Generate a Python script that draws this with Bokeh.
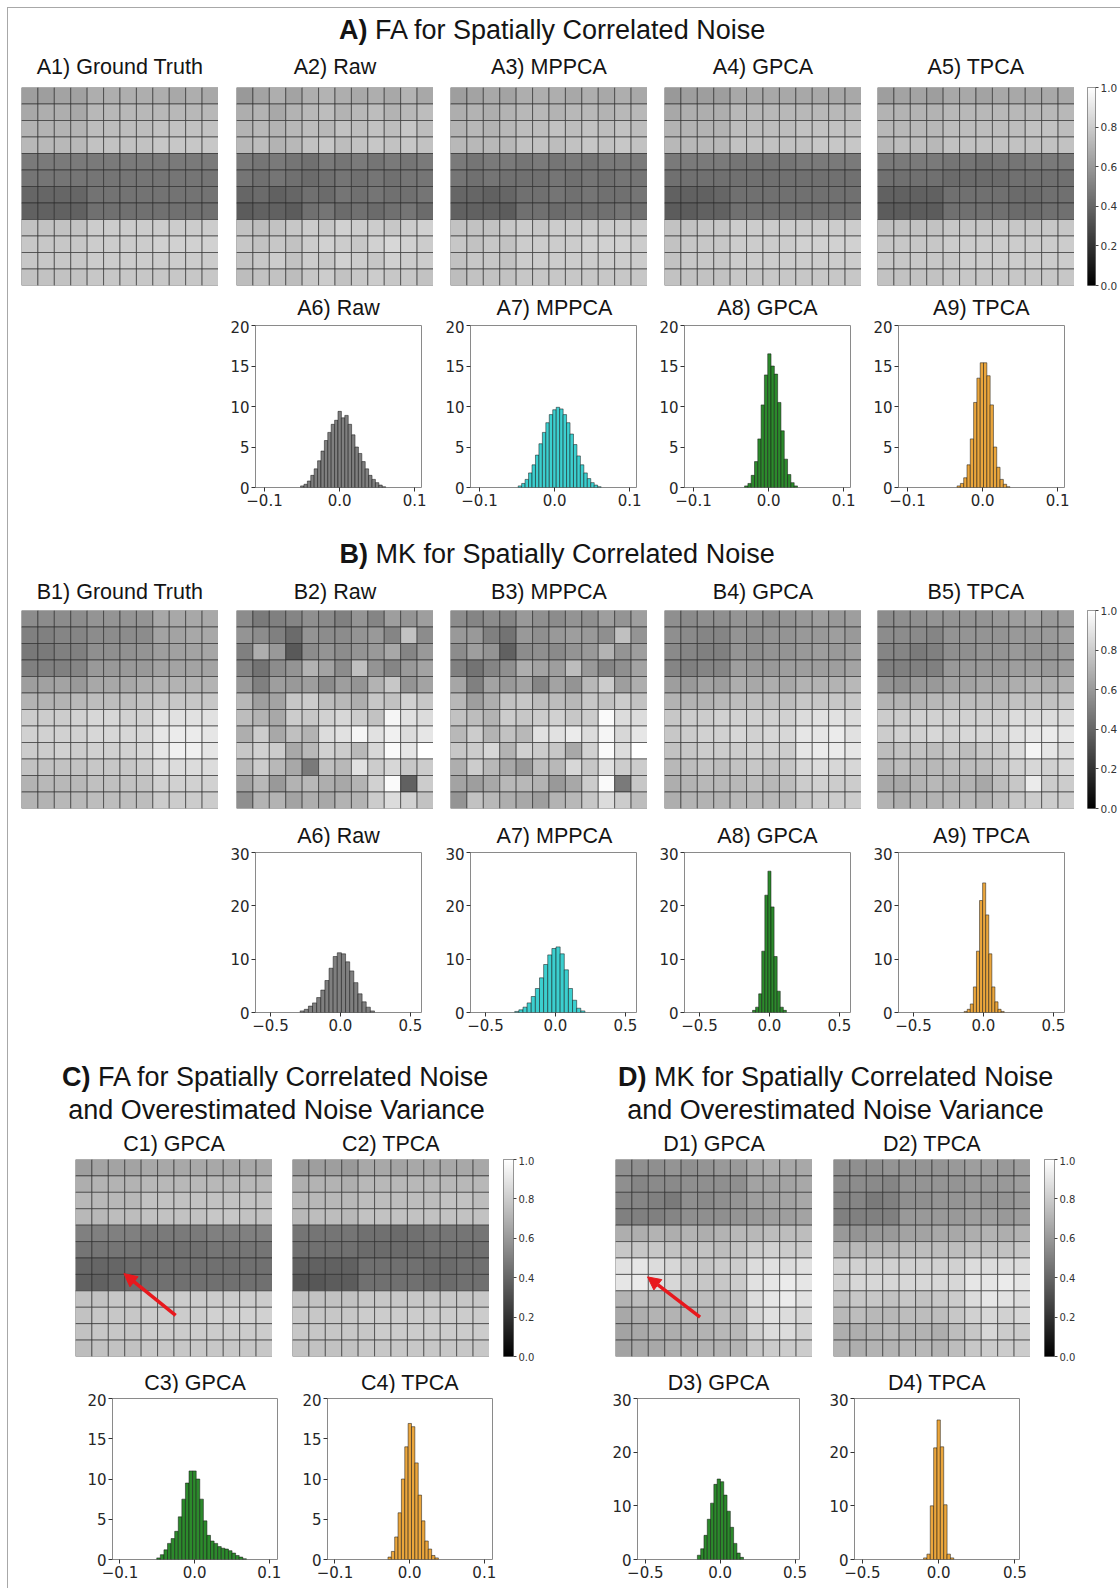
import numpy as np
from bokeh.plotting import figure
from bokeh.layouts import row, column
from bokeh.models import (Spacer, LinearColorMapper, FixedTicker, CustomJSTickFormatter,
                          LinearAxis, Arrow, NormalHead, ColumnDataSource)
from bokeh.core.properties import value
from bokeh.embed import file_html
from bokeh.resources import INLINE

# ---------------------------------------------------------------- data
# heat maps: 12x12 cell values in percent (0..100 -> 0..1 grey scale)
A1_gt = [
    [62, 62, 64, 63, 68, 68, 68, 68, 68, 66, 68, 66],
    [66, 68, 68, 66, 72, 72, 72, 72, 72, 72, 72, 72],
    [70, 70, 70, 70, 74, 74, 74, 74, 76, 76, 76, 76],
    [72, 72, 72, 72, 76, 76, 76, 76, 78, 78, 78, 78],
    [48, 48, 48, 48, 48, 48, 48, 48, 48, 48, 48, 48],
    [46, 46, 46, 46, 46, 46, 46, 46, 46, 46, 46, 46],
    [40, 40, 40, 40, 45, 45, 45, 45, 45, 45, 45, 45],
    [38, 38, 38, 38, 44, 44, 44, 44, 44, 44, 44, 44],
    [76, 76, 76, 76, 80, 80, 80, 80, 80, 80, 80, 80],
    [78, 78, 78, 78, 80, 80, 80, 80, 82, 82, 82, 82],
    [78, 78, 78, 78, 80, 80, 80, 80, 80, 80, 80, 80],
    [76, 76, 76, 76, 78, 78, 78, 78, 78, 78, 78, 78]]
A2_raw = [
    [60, 64, 68, 64, 68, 70, 68, 66, 68, 66, 70, 66],
    [68, 70, 66, 70, 72, 74, 70, 72, 74, 70, 72, 74],
    [70, 72, 70, 72, 74, 72, 76, 74, 76, 74, 78, 74],
    [72, 74, 70, 72, 76, 78, 74, 76, 78, 76, 78, 76],
    [48, 46, 48, 46, 44, 48, 46, 48, 46, 48, 46, 48],
    [46, 44, 46, 44, 42, 44, 46, 44, 46, 44, 46, 46],
    [40, 42, 38, 40, 44, 42, 46, 44, 46, 44, 44, 46],
    [36, 38, 38, 36, 44, 46, 42, 44, 42, 44, 46, 42],
    [76, 74, 76, 78, 80, 78, 82, 80, 80, 78, 80, 82],
    [78, 76, 78, 76, 80, 82, 80, 78, 82, 84, 82, 80],
    [76, 78, 80, 76, 80, 78, 82, 80, 78, 82, 80, 80],
    [74, 76, 76, 74, 78, 80, 76, 78, 80, 78, 78, 76]]
A3_mppca = [
    [62, 64, 66, 64, 68, 68, 68, 66, 68, 66, 68, 66],
    [68, 70, 68, 70, 72, 72, 70, 72, 72, 70, 72, 72],
    [70, 72, 70, 72, 74, 74, 76, 74, 76, 74, 76, 74],
    [72, 72, 72, 72, 76, 76, 74, 76, 78, 76, 78, 76],
    [48, 46, 48, 48, 46, 48, 46, 48, 46, 48, 48, 48],
    [46, 44, 46, 44, 44, 44, 46, 44, 46, 44, 46, 46],
    [40, 40, 38, 40, 44, 44, 46, 44, 46, 44, 44, 46],
    [38, 38, 38, 36, 44, 44, 42, 44, 44, 44, 46, 44],
    [76, 76, 76, 78, 80, 78, 80, 80, 80, 80, 80, 80],
    [78, 76, 78, 76, 80, 80, 80, 80, 82, 82, 82, 80],
    [76, 78, 78, 76, 80, 80, 80, 80, 80, 80, 80, 80],
    [74, 76, 76, 76, 78, 78, 78, 78, 78, 78, 78, 78]]
A4_gpca = [
    [60, 62, 62, 62, 66, 66, 66, 66, 66, 66, 66, 66],
    [66, 68, 68, 68, 72, 72, 72, 72, 72, 72, 72, 72],
    [70, 70, 70, 70, 74, 74, 74, 74, 76, 76, 76, 76],
    [72, 72, 72, 72, 76, 76, 76, 76, 76, 78, 78, 78],
    [48, 48, 48, 48, 46, 46, 46, 46, 48, 48, 48, 48],
    [44, 44, 44, 44, 44, 44, 44, 44, 44, 44, 44, 44],
    [38, 38, 38, 40, 44, 44, 44, 44, 44, 44, 44, 44],
    [36, 36, 38, 38, 44, 44, 44, 44, 44, 44, 44, 44],
    [76, 76, 78, 78, 80, 80, 80, 80, 80, 80, 80, 80],
    [76, 78, 78, 78, 80, 80, 80, 80, 82, 82, 82, 82],
    [76, 78, 78, 78, 80, 80, 80, 80, 80, 80, 80, 80],
    [76, 76, 76, 76, 78, 78, 78, 78, 78, 78, 78, 78]]
A5_tpca = [
    [62, 64, 64, 62, 66, 66, 64, 66, 66, 66, 66, 66],
    [70, 70, 70, 70, 72, 72, 72, 72, 72, 72, 72, 72],
    [72, 72, 72, 72, 74, 74, 74, 74, 74, 76, 76, 74],
    [72, 74, 74, 72, 76, 76, 76, 76, 76, 76, 76, 76],
    [48, 48, 48, 48, 46, 46, 44, 46, 46, 48, 48, 48],
    [44, 44, 44, 44, 42, 42, 42, 42, 44, 44, 44, 44],
    [38, 38, 38, 38, 44, 44, 44, 44, 42, 42, 44, 44],
    [36, 36, 36, 36, 44, 44, 44, 44, 42, 42, 44, 44],
    [76, 76, 76, 76, 78, 78, 78, 78, 78, 78, 78, 78],
    [78, 78, 78, 78, 80, 80, 80, 80, 80, 80, 80, 80],
    [78, 78, 78, 78, 78, 80, 80, 80, 80, 80, 80, 80],
    [76, 76, 76, 76, 78, 78, 78, 78, 78, 78, 78, 78]]
B1_gt = [
    [55, 55, 55, 55, 58, 58, 58, 58, 66, 66, 66, 66],
    [50, 50, 52, 52, 55, 55, 55, 55, 64, 64, 66, 66],
    [47, 48, 50, 50, 56, 56, 57, 58, 62, 63, 64, 65],
    [50, 50, 50, 52, 60, 60, 60, 60, 64, 64, 64, 64],
    [62, 63, 64, 60, 66, 66, 66, 68, 70, 70, 70, 70],
    [70, 70, 70, 72, 74, 74, 74, 76, 78, 78, 78, 78],
    [80, 80, 80, 82, 84, 84, 82, 82, 88, 88, 88, 88],
    [82, 82, 82, 82, 84, 84, 84, 84, 90, 92, 92, 90],
    [80, 80, 82, 80, 82, 82, 82, 84, 90, 94, 94, 90],
    [76, 76, 76, 76, 78, 78, 78, 80, 86, 86, 86, 86],
    [70, 72, 72, 72, 75, 75, 76, 76, 82, 82, 82, 82],
    [70, 70, 72, 72, 74, 74, 74, 74, 80, 80, 80, 80]]
B2_raw = [
    [55, 48, 50, 52, 56, 54, 50, 58, 52, 62, 58, 62],
    [58, 55, 50, 42, 58, 55, 55, 58, 60, 52, 76, 55],
    [50, 68, 60, 35, 55, 58, 55, 58, 60, 66, 52, 60],
    [52, 45, 55, 58, 70, 64, 55, 75, 58, 52, 60, 64],
    [60, 50, 62, 60, 62, 55, 62, 58, 70, 78, 58, 64],
    [72, 62, 64, 78, 80, 74, 72, 68, 78, 76, 82, 78],
    [74, 70, 66, 80, 78, 82, 84, 80, 76, 96, 88, 86],
    [68, 80, 66, 75, 70, 86, 88, 96, 88, 94, 86, 90],
    [78, 82, 80, 66, 72, 82, 80, 72, 84, 98, 90, 100],
    [72, 80, 72, 66, 48, 75, 72, 88, 80, 84, 78, 80],
    [64, 72, 60, 70, 72, 68, 66, 70, 82, 98, 38, 80],
    [56, 70, 70, 64, 68, 66, 70, 70, 80, 86, 82, 76]]
B3_mppca = [
    [55, 52, 55, 52, 60, 56, 55, 58, 56, 62, 58, 62],
    [60, 60, 50, 45, 60, 56, 60, 62, 60, 56, 75, 58],
    [55, 62, 58, 38, 55, 56, 54, 58, 60, 70, 58, 62],
    [50, 45, 52, 56, 68, 64, 62, 74, 60, 52, 56, 64],
    [65, 50, 64, 60, 64, 52, 64, 58, 72, 80, 62, 68],
    [72, 62, 68, 76, 78, 74, 74, 72, 78, 76, 80, 76],
    [76, 74, 70, 80, 78, 80, 82, 78, 80, 98, 86, 86],
    [72, 80, 70, 76, 72, 88, 88, 92, 86, 96, 84, 90],
    [78, 80, 84, 70, 82, 80, 78, 66, 82, 98, 86, 100],
    [68, 80, 72, 66, 60, 74, 72, 84, 78, 88, 80, 80],
    [64, 62, 66, 72, 72, 70, 60, 66, 80, 98, 48, 78],
    [58, 76, 72, 68, 66, 62, 70, 72, 78, 86, 80, 74]]
B4_gpca = [
    [56, 54, 56, 56, 58, 58, 56, 58, 60, 62, 60, 62],
    [56, 54, 52, 52, 58, 56, 58, 58, 60, 60, 62, 60],
    [54, 52, 50, 50, 58, 56, 58, 58, 60, 62, 60, 62],
    [52, 50, 52, 52, 62, 60, 60, 62, 62, 62, 62, 64],
    [62, 60, 64, 62, 68, 66, 68, 66, 70, 70, 70, 72],
    [70, 70, 70, 72, 74, 74, 74, 74, 78, 78, 78, 78],
    [78, 80, 80, 82, 82, 82, 82, 82, 86, 88, 88, 86],
    [78, 80, 82, 82, 84, 82, 84, 84, 90, 90, 92, 88],
    [76, 78, 80, 80, 80, 82, 82, 80, 90, 92, 92, 90],
    [72, 74, 76, 74, 76, 78, 76, 78, 84, 86, 84, 84],
    [68, 70, 72, 72, 72, 74, 72, 74, 80, 82, 80, 80],
    [68, 70, 70, 70, 72, 72, 72, 72, 78, 80, 80, 80]]
B5_tpca = [
    [55, 56, 56, 58, 58, 58, 58, 60, 62, 64, 60, 62],
    [55, 55, 54, 52, 58, 58, 58, 58, 60, 60, 60, 62],
    [52, 52, 48, 50, 56, 56, 58, 58, 60, 58, 58, 60],
    [50, 50, 50, 50, 60, 60, 60, 60, 62, 62, 60, 62],
    [58, 56, 60, 60, 64, 64, 66, 66, 68, 70, 68, 70],
    [70, 70, 70, 72, 74, 74, 74, 74, 76, 76, 76, 78],
    [80, 80, 82, 82, 82, 82, 82, 82, 86, 86, 86, 86],
    [80, 82, 82, 84, 82, 84, 84, 84, 88, 90, 92, 90],
    [74, 76, 76, 74, 78, 74, 78, 80, 86, 96, 90, 86],
    [72, 74, 72, 72, 74, 74, 74, 78, 82, 84, 82, 84],
    [66, 66, 70, 72, 70, 70, 66, 74, 78, 92, 80, 80],
    [70, 68, 70, 70, 72, 72, 70, 74, 78, 80, 80, 80]]
C1_gpca = [
    [62, 64, 64, 64, 66, 66, 66, 66, 66, 66, 66, 66],
    [68, 70, 70, 70, 72, 72, 72, 72, 72, 72, 72, 72],
    [72, 72, 72, 72, 76, 76, 76, 76, 76, 76, 76, 76],
    [72, 72, 74, 74, 76, 76, 76, 76, 78, 78, 76, 76],
    [50, 50, 50, 50, 48, 48, 48, 48, 50, 50, 50, 50],
    [46, 46, 46, 46, 44, 44, 44, 44, 46, 46, 46, 46],
    [40, 40, 40, 42, 44, 44, 44, 44, 44, 44, 44, 44],
    [38, 38, 40, 42, 44, 44, 44, 44, 44, 44, 44, 44],
    [76, 76, 78, 78, 80, 80, 80, 80, 80, 80, 80, 80],
    [76, 78, 78, 78, 80, 80, 80, 80, 82, 82, 82, 82],
    [76, 78, 78, 78, 80, 80, 80, 80, 80, 80, 80, 80],
    [74, 76, 76, 76, 78, 78, 78, 78, 78, 78, 78, 78]]
C2_tpca = [
    [60, 62, 62, 60, 66, 66, 64, 66, 66, 66, 66, 66],
    [68, 70, 70, 68, 72, 72, 72, 72, 72, 72, 72, 72],
    [72, 72, 72, 72, 74, 74, 74, 74, 74, 76, 76, 74],
    [72, 74, 74, 72, 76, 76, 76, 76, 76, 76, 76, 76],
    [46, 46, 46, 46, 44, 44, 42, 44, 46, 46, 46, 46],
    [44, 44, 44, 44, 42, 42, 42, 42, 44, 44, 44, 44],
    [38, 38, 38, 38, 44, 44, 44, 44, 42, 42, 44, 44],
    [34, 34, 36, 36, 44, 44, 44, 44, 42, 42, 44, 44],
    [76, 76, 76, 76, 78, 78, 78, 78, 78, 78, 78, 78],
    [78, 78, 78, 78, 80, 80, 80, 80, 80, 80, 80, 80],
    [78, 78, 78, 78, 78, 80, 80, 80, 80, 80, 80, 80],
    [76, 76, 76, 76, 78, 78, 78, 78, 78, 78, 78, 78]]
D1_gpca = [
    [56, 56, 56, 58, 56, 58, 60, 60, 66, 68, 66, 66],
    [56, 52, 54, 54, 56, 56, 56, 56, 64, 64, 64, 66],
    [52, 52, 50, 48, 56, 54, 56, 58, 62, 64, 64, 66],
    [50, 50, 50, 52, 56, 56, 56, 58, 60, 62, 62, 64],
    [68, 68, 70, 68, 70, 68, 70, 72, 72, 74, 74, 74],
    [78, 78, 78, 76, 76, 76, 74, 76, 80, 82, 80, 80],
    [88, 90, 86, 84, 80, 78, 80, 80, 86, 88, 86, 88],
    [90, 92, 88, 84, 80, 78, 78, 80, 88, 90, 92, 90],
    [70, 74, 72, 72, 74, 74, 74, 76, 86, 90, 92, 88],
    [66, 68, 70, 70, 72, 72, 74, 74, 84, 88, 86, 84],
    [64, 66, 68, 68, 70, 70, 72, 72, 82, 86, 86, 82],
    [64, 66, 66, 68, 70, 70, 70, 70, 78, 80, 80, 80]]
D2_tpca = [
    [56, 56, 56, 58, 58, 58, 58, 60, 62, 62, 60, 62],
    [55, 55, 54, 52, 58, 58, 58, 58, 60, 60, 60, 62],
    [52, 52, 48, 50, 56, 56, 58, 58, 60, 58, 58, 60],
    [50, 50, 50, 50, 60, 60, 60, 60, 62, 62, 60, 62],
    [60, 58, 60, 60, 64, 64, 66, 66, 68, 70, 68, 70],
    [72, 72, 72, 72, 74, 74, 74, 74, 76, 76, 76, 78],
    [82, 82, 82, 82, 82, 82, 82, 82, 86, 86, 86, 86],
    [82, 84, 84, 84, 84, 84, 84, 84, 90, 90, 92, 90],
    [76, 78, 78, 76, 78, 76, 78, 80, 86, 90, 88, 86],
    [72, 74, 72, 72, 74, 74, 74, 78, 82, 84, 82, 84],
    [68, 68, 70, 72, 70, 70, 68, 74, 78, 84, 80, 80],
    [70, 68, 70, 70, 72, 72, 70, 74, 78, 80, 80, 80]]

# histograms: first bin edge, bin width, bar heights (density)
A6_start, A6_bw = -0.052, 0.00453
A6_dens = [0.2, 0.4, 0.8, 1.5, 2.3, 3.3, 4.5, 5.8, 6.8, 7.8, 8.3, 9.4, 8.6, 8.9, 7.8, 6.5,
           5.0, 4.2, 3.2, 2.3, 1.5, 1.0, 0.6, 0.3, 0.1]
A7_start, A7_bw = -0.0485, 0.0046
A7_dens = [0.2, 0.5, 1.0, 1.8, 2.8, 4.0, 5.4, 6.8, 8.0, 9.0, 9.6, 9.9, 9.7, 9.0, 8.0, 6.6,
           5.3, 3.9, 2.8, 1.8, 1.1, 0.6, 0.3, 0.1]
A8_start, A8_bw = -0.032, 0.0044
A8_dens = [0.2, 0.5, 1.5, 3.2, 6.0, 10.2, 13.9, 16.5, 15.0, 14.0, 10.5, 7.0, 3.5, 1.6, 0.6, 0.2]
A9_start, A9_bw = -0.034, 0.0044
A9_dens = [0.2, 0.5, 1.2, 2.8, 6.0, 10.5, 13.5, 15.4, 15.4, 13.8, 10.2, 5.0, 2.5, 1.0, 0.4, 0.1]

BA6_start, BA6_bw = -0.288, 0.0295
BA6_dens = [0.3, 0.6, 1.2, 1.8, 2.8, 4.2, 6.0, 8.3, 10.5, 11.2, 11.0, 9.5, 7.8, 5.6, 3.5, 2.0, 1.0, 0.3]
BA7_start, BA7_bw = -0.291, 0.0295
BA7_dens = [0.2, 0.5, 1.0, 1.8, 3.0, 4.5, 6.5, 9.0, 10.8, 12.0, 12.3, 11.0, 8.0, 4.5, 2.3, 0.8, 0.3]
BA8_start, BA8_bw = -0.121, 0.022
BA8_dens = [0.4, 1.0, 3.5, 11.5, 22.0, 26.5, 19.8, 10.5, 4.0, 1.0, 0.4]
BA9_start, BA9_bw = -0.138, 0.022
BA9_dens = [0.2, 0.6, 1.6, 4.8, 11.5, 21.0, 24.3, 18.3, 11.0, 4.8, 2.0, 0.6, 0.2]

C3_start, C3_bw = -0.0507, 0.0048
C3_dens = [0.2, 0.6, 1.2, 2.0, 2.6, 3.5, 5.3, 7.5, 9.5, 11.0, 11.0, 10.0, 7.5, 4.8, 3.0, 2.3,
           2.0, 1.6, 1.4, 1.3, 1.1, 0.8, 0.5, 0.3, 0.1]
C4_start, C4_bw = -0.029, 0.0045
C4_dens = [0.3, 1.0, 2.8, 5.8, 10.0, 14.0, 16.9, 16.5, 12.0, 8.0, 4.8, 2.3, 1.3, 0.5, 0.2]
D3_start, D3_bw = -0.152, 0.022
D3_dens = [0.8, 2.0, 4.5, 7.5, 10.5, 14.0, 15.0, 14.5, 12.0, 9.0, 6.0, 3.0, 1.2, 0.4]
D4_start, D4_bw = -0.099, 0.022
D4_dens = [0.3, 1.0, 10.0, 20.8, 26.0, 21.0, 10.2, 1.0, 0.3]

# ticks / ranges
FA_XTICKS = [-0.1, 0.0, 0.1]
MK_XTICKS = [-0.5, 0.0, 0.5]
FA_YTICKS = [0, 5, 10, 15, 20]
MK_YTICKS = [0, 10, 20, 30]
CB_TICKS = [0.0, 0.2, 0.4, 0.6, 0.8, 1.0]

# arrows (cell units: column, row) in C1 and D1
C1_ARROW = (6.1, 9.5, 2.95, 6.95)
D1_ARROW = (5.15, 9.6, 1.95, 7.15)

# ---------------------------------------------------------------- styles
TFONT = "Liberation Sans"
KFONT = "DejaVu Sans"
GRAYS = ["#%02x%02x%02x" % (i, i, i) for i in range(256)]
CMAP = LinearColorMapper(palette=GRAYS, low=0.0, high=1.0)
C_GRAY, C_CYAN, C_GREEN, C_ORANGE = "#7f7f7f", "#3ccfcf", "#2c8a2c", "#eba63c"
RED = "#e8181d"
FRAME = "#a8a8a8"


def base_fig(**kw):
    p = figure(output_backend="svg", toolbar_location=None, **kw)
    p.border_fill_color = None
    return p


def strip(top, h, items):
    p = base_fig(width=1120, height=h, x_range=(0, 1120), y_range=(top + h, top),
                 x_axis_location=None, y_axis_location=None, min_border=0)
    p.grid.visible = False
    p.outline_line_color = None
    p.background_fill_color = None
    for (x, y, txt, size, bold, align) in items:
        p.text(x=[x], y=[y], text=[txt], text_font=value(TFONT), text_font_size=size,
               text_font_style="bold" if bold else "normal", text_align=align,
               text_baseline="middle", text_color="#141414")
    return p


def heatmap(vals, fw=197, fh=198, top=6, bottom=6, arrow=None):
    v = np.asarray(vals, dtype=float) / 100.0
    nr, nc = v.shape
    cc, rr = np.meshgrid(np.arange(nc), np.arange(nr))
    src = ColumnDataSource(dict(l=cc.ravel(), r=cc.ravel() + 1, t=rr.ravel(), b=rr.ravel() + 1,
                                v=v.ravel()))
    p = base_fig(width=fw, height=fh + top + bottom, x_range=(0, nc), y_range=(nr, 0),
                 x_axis_location=None, y_axis_location=None, min_border_left=0,
                 min_border_right=0, min_border_top=top, min_border_bottom=bottom)
    p.grid.visible = False
    p.outline_line_color = None
    p.quad(left="l", right="r", top="t", bottom="b", source=src,
           fill_color={"field": "v", "transform": CMAP}, line_color="#262626", line_width=0.6)
    if arrow is not None:
        xs, ys, xe, ye = arrow
        p.add_layout(Arrow(end=NormalHead(size=13, fill_color=RED, line_color=RED),
                           x_start=xs, y_start=ys, x_end=xe, y_end=ye,
                           line_color=RED, line_width=3.5))
    return p


def colorbar(lb, fw, rb, fh, top, bottom, size="10.5px"):
    p = base_fig(width=lb + fw + rb, height=fh + top + bottom, x_range=(0, 1), y_range=(0, 1),
                 x_axis_location=None, y_axis_location=None, min_border_left=lb,
                 min_border_right=rb, min_border_top=top, min_border_bottom=bottom)
    p.grid.visible = False
    grad = np.linspace(0, 1, 256).reshape(256, 1)
    p.image(image=[grad], x=0, y=0, dw=1, dh=1, color_mapper=CMAP)
    ax = LinearAxis(ticker=FixedTicker(ticks=CB_TICKS),
                    formatter=CustomJSTickFormatter(code="return tick.toFixed(1)"))
    ax.axis_line_color = None
    ax.major_tick_out = 3
    ax.major_tick_in = 0
    ax.major_tick_line_color = "#444444"
    ax.minor_tick_line_color = None
    ax.major_label_text_font = KFONT
    ax.major_label_text_font_size = size
    ax.major_label_text_color = "#333333"
    ax.major_label_standoff = 2
    p.add_layout(ax, "right")
    p.outline_line_color = "#777777"
    return p


def histfig(start, bw, dens, color, xr, yr, xt, yt, lb, fw, rb, fh, top, bottom):
    d = np.asarray(dens, dtype=float)
    left = start + bw * np.arange(len(d))
    p = base_fig(width=lb + fw + rb, height=top + fh + bottom, x_range=xr, y_range=yr,
                 min_border_left=lb, min_border_right=rb, min_border_top=top,
                 min_border_bottom=bottom)
    p.grid.visible = False
    p.quad(left=left, right=left + bw, bottom=0, top=d, fill_color=color,
           line_color="#111111", line_width=0.6, line_alpha=0.85)
    p.xaxis.ticker = FixedTicker(ticks=xt)
    p.xaxis.formatter = CustomJSTickFormatter(
        code="return tick.toFixed(1).replace('-', '\u2212')")
    p.yaxis.ticker = FixedTicker(ticks=yt)
    for ax in (p.xaxis, p.yaxis):
        ax.axis_line_color = None
        ax.major_tick_out = 4
        ax.major_tick_in = 0
        ax.major_tick_line_color = "#333333"
        ax.minor_tick_line_color = None
        ax.major_label_text_font = KFONT
        ax.major_label_text_font_size = "15px"
        ax.major_label_text_color = "#262626"
        ax.major_label_standoff = 2
    p.outline_line_color = "#8a8a8a"
    return p


def sp(w, h):
    return Spacer(width=w, height=h)


TS, SS = "27px", "21.5px"

# ---------------------------------------------------------------- section A
s1 = strip(0, 81, [
    (338.5, 29.5, "A)", TS, True, "left"),
    (374.5, 29.5, "FA for Spatially Correlated Noise", TS, False, "left"),
    (119.5, 66, "A1) Ground Truth", SS, False, "center"),
    (334.5, 66, "A2) Raw", SS, False, "center"),
    (548.5, 66, "A3) MPPCA", SS, False, "center"),
    (762.5, 66, "A4) GPCA", SS, False, "center"),
    (975.5, 66, "A5) TPCA", SS, False, "center")])
hA = row(sp(21, 210), heatmap(A1_gt), sp(18, 210), heatmap(A2_raw), sp(17, 210),
         heatmap(A3_mppca), sp(17, 210), heatmap(A4_gpca), sp(16, 210), heatmap(A5_tpca),
         colorbar(13, 9, 24, 198, 6, 6))
s2 = strip(291, 29, [
    (338.0, 307, "A6) Raw", SS, False, "center"),
    (554.0, 307, "A7) MPPCA", SS, False, "center"),
    (767.0, 307, "A8) GPCA", SS, False, "center"),
    (981.0, 307, "A9) TPCA", SS, False, "center")])
FA_XR, FA_YR = (-0.112, 0.109), (0, 20)
ha = dict(xr=FA_XR, yr=FA_YR, xt=FA_XTICKS, yt=FA_YTICKS, lb=40, fw=166, rb=8, fh=162, top=5,
          bottom=33)
gA = row(sp(215, 200), histfig(A6_start, A6_bw, A6_dens, C_GRAY, **ha), sp(1, 200),
         histfig(A7_start, A7_bw, A7_dens, C_CYAN, **ha),
         histfig(A8_start, A8_bw, A8_dens, C_GREEN, **ha),
         histfig(A9_start, A9_bw, A9_dens, C_ORANGE, **ha))

# ---------------------------------------------------------------- section B
s3 = strip(520, 84, [
    (339.0, 553, "B)", TS, True, "left"),
    (375.0, 553, "MK for Spatially Correlated Noise", TS, False, "left"),
    (119.5, 591, "B1) Ground Truth", SS, False, "center"),
    (334.5, 591, "B2) Raw", SS, False, "center"),
    (548.5, 591, "B3) MPPCA", SS, False, "center"),
    (762.5, 591, "B4) GPCA", SS, False, "center"),
    (975.5, 591, "B5) TPCA", SS, False, "center")])
hB = row(sp(21, 210), heatmap(B1_gt), sp(18, 210), heatmap(B2_raw), sp(17, 210),
         heatmap(B3_mppca), sp(17, 210), heatmap(B4_gpca), sp(16, 210), heatmap(B5_tpca),
         colorbar(13, 9, 24, 198, 6, 6))
s4 = strip(814, 33, [
    (338.0, 835, "A6) Raw", SS, False, "center"),
    (554.0, 835, "A7) MPPCA", SS, False, "center"),
    (767.0, 835, "A8) GPCA", SS, False, "center"),
    (981.0, 835, "A9) TPCA", SS, False, "center")])
MK_XR, MK_YR = (-0.607, 0.579), (0, 30)
hb = dict(xr=MK_XR, yr=MK_YR, xt=MK_XTICKS, yt=MK_YTICKS, lb=40, fw=166, rb=8, fh=160, top=5,
          bottom=28)
gB = row(sp(215, 193), histfig(BA6_start, BA6_bw, BA6_dens, C_GRAY, **hb), sp(1, 193),
         histfig(BA7_start, BA7_bw, BA7_dens, C_CYAN, **hb),
         histfig(BA8_start, BA8_bw, BA8_dens, C_GREEN, **hb),
         histfig(BA9_start, BA9_bw, BA9_dens, C_ORANGE, **hb))

# ---------------------------------------------------------------- sections C and D
s5 = strip(1040, 116, [
    (61.5, 1076.5, "C)", TS, True, "left"),
    (97.5, 1076.5, "FA for Spatially Correlated Noise", TS, False, "left"),
    (276.0, 1109, "and Overestimated Noise Variance", TS, False, "center"),
    (617.5, 1076.5, "D)", TS, True, "left"),
    (653.5, 1076.5, "MK for Spatially Correlated Noise", TS, False, "left"),
    (835.0, 1109, "and Overestimated Noise Variance", TS, False, "center"),
    (173.5, 1143, "C1) GPCA", SS, False, "center"),
    (390.5, 1143, "C2) TPCA", SS, False, "center"),
    (713.5, 1143, "D1) GPCA", SS, False, "center"),
    (931.5, 1143, "D2) TPCA", SS, False, "center")])
hc = dict(fh=197, top=3, bottom=5)
hCD = row(sp(75, 205), heatmap(C1_gpca, arrow=C1_ARROW, **hc), sp(20, 205),
          heatmap(C2_tpca, **hc), colorbar(14, 10, 26, 197, 3, 5, "10px"), sp(76, 205),
          heatmap(D1_gpca, arrow=D1_ARROW, **hc), sp(21, 205), heatmap(D2_tpca, **hc),
          colorbar(14, 10, 26, 197, 3, 5, "10px"))
s6 = strip(1361, 32, [
    (194.5, 1382, "C3) GPCA", SS, False, "center"),
    (409.5, 1382, "C4) TPCA", SS, False, "center"),
    (718.0, 1382, "D3) GPCA", SS, False, "center"),
    (936.5, 1382, "D4) TPCA", SS, False, "center")])
hcf = dict(xr=(-0.110, 0.111), yr=FA_YR, xt=FA_XTICKS, yt=FA_YTICKS, lb=40, fw=165, rb=10,
           fh=161, top=5, bottom=29)
hdf = dict(xr=(-0.552, 0.530), yr=MK_YR, xt=MK_XTICKS, yt=MK_YTICKS, lb=40, fh=161, top=5,
           bottom=29)
gCD = row(sp(72, 195), histfig(C3_start, C3_bw, C3_dens, C_GREEN, **hcf),
          histfig(C4_start, C4_bw, C4_dens, C_ORANGE, **hcf), sp(95, 195),
          histfig(D3_start, D3_bw, D3_dens, C_GREEN, fw=162, rb=15, **hdf),
          histfig(D4_start, D4_bw, D4_dens, C_ORANGE, fw=165, rb=10, **hdf))

layout = column(s1, hA, s2, gA, s3, hB, s4, gB, s5, hCD, s6, gCD,
                styles={"background-color": "white",
                        "background-image": "linear-gradient(%s, %s), linear-gradient(%s, %s)"
                                            % (FRAME, FRAME, FRAME, FRAME),
                        "background-size": "1px 1581px, 1113px 1px",
                        "background-position": "7px 7px, 7px 7px",
                        "background-repeat": "no-repeat"})

open("out.html", "w").write(file_html(layout, INLINE, title="FA and MK"))
